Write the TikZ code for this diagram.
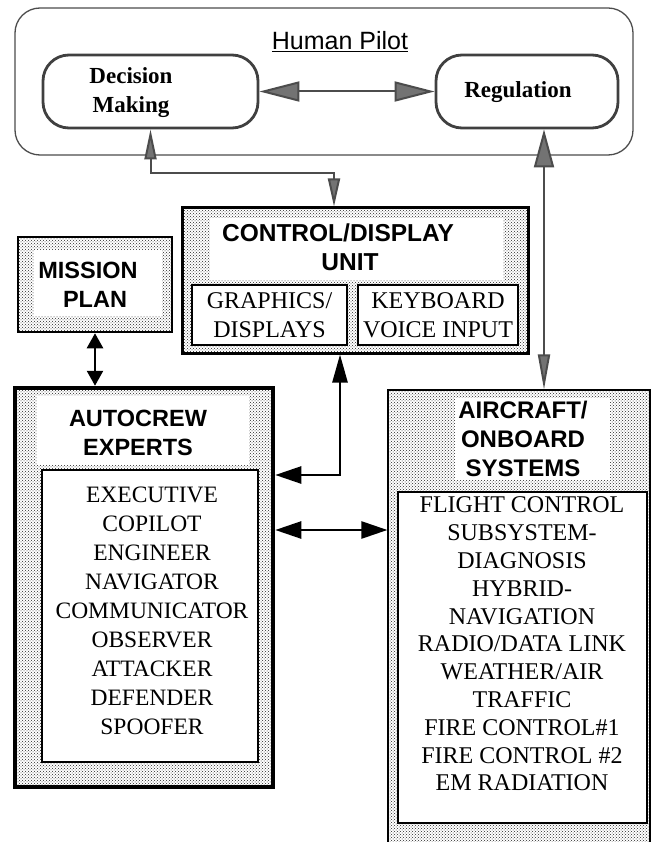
\documentclass[tikz,border=0pt]{standalone}
\usepackage{fontspec}
\setmainfont{Liberation Serif}
\setsansfont{Liberation Sans}
\usetikzlibrary{arrows.meta, patterns, math}

\tikzset{
  stipple/.style={pattern=crosshatch dots, pattern color=black!85},
  unitbox/.style={draw, line width=2.5pt, inner sep=0pt, stipple},
  whitebox/.style={fill=white, inner sep=0pt},
  listbox/.style={draw, line width=2.5pt, fill=white, inner sep=0pt},
  pilotframe/.style={draw=black!70, line width=1.3pt, rounded corners=25pt, inner sep=0pt},
  pilotbox/.style={draw=black!75, line width=2.8pt, rounded corners=26pt, inner sep=0pt},
  pilottext/.style={font=\bfseries\fontsize{23}{29}\selectfont, align=center},
  headtext/.style={font=\sffamily\bfseries\fontsize{23.5}{29}\selectfont, align=center},
  itemtext/.style={font=\fontsize{23.5}{29}\selectfont, align=center},
  grayline/.style={draw=black!70, line width=2pt},
  blackline/.style={line width=2.5pt},
  graytip/.tip={Triangle[length=40pt,width=20pt,fill=black!55]},
  blacktip/.tip={Triangle[length=26pt,width=17pt]},
  shorttip/.tip={Triangle[length=15pt,width=16pt]},
}

\begin{document}
\begin{tikzpicture}[x=1pt, y=-1pt]
\tikzmath{
\pw=651; \ph=842;
}
\useasboundingbox (0,0) rectangle (\pw,\ph);

% human pilot
\node[pilotframe, minimum width=618pt, minimum height=147pt] (pilot) at (324,81.5) {};
\node[font=\sffamily\fontsize{25}{28}\selectfont] (pilottitle) at (340,42) {\underline{Human Pilot}};
\node[pilotbox, minimum width=215pt, minimum height=73pt] (decision) at (150.5,91.5) {};
\node[pilottext] (decisiontext) at (131,92.5) {Decision\\Making};
\node[pilotbox, minimum width=182pt, minimum height=73pt] (regulation) at (527,91.5) {};
\node[pilottext] (regulationtext) at (518,92) {Regulation};

% control/display unit
\node[unitbox, line width=3pt, minimum width=346pt, minimum height=145pt] (cdu) at (355,280.5) {};
\node[whitebox, minimum width=293pt, minimum height=62pt] (cdutitle) at (356.5,249) {};
\node[headtext, font=\sffamily\bfseries\fontsize{24.5}{29}\selectfont] (cdutext) at (338,247.5) {CONTROL/DISPLAY\\\hspace*{24pt}UNIT};
\node[listbox, itemtext, font=\fontsize{24}{29}\selectfont, minimum width=155pt, minimum height=60pt] (graphics) at (269.5,315) {GRAPHICS/\\DISPLAYS};
\node[listbox, itemtext, font=\fontsize{24}{29}\selectfont, minimum width=160pt, minimum height=60pt] (keyboard) at (438,315) {KEYBOARD\\VOICE INPUT};

% mission plan
\node[unitbox, minimum width=154pt, minimum height=95pt] (mission) at (95,284.5) {};
\node[whitebox, minimum width=128pt, minimum height=66pt] (missiontitle) at (98,283) {};
\node[headtext] (missiontext) at (88,284.5) {MISSION\\\hspace*{14pt}PLAN};

% autocrew experts
\node[unitbox, line width=4.5pt, minimum width=258pt, minimum height=399pt] (autocrew) at (144,587.5) {};
\node[whitebox, minimum width=212pt, minimum height=69pt] (crewtitle) at (143,430.5) {};
\node[headtext] (crewtext) at (138,432.5) {AUTOCREW\\EXPERTS};
\node[listbox, minimum width=216pt, minimum height=292pt] (crew) at (150,616) {};
\node[itemtext] (crewlist) at (152,610.5) {EXECUTIVE\\COPILOT\\ENGINEER\\NAVIGATOR\\COMMUNICATOR\\OBSERVER\\ATTACKER\\DEFENDER\\SPOOFER};

% aircraft / onboard systems
\node[draw, line width=1.2pt, stipple, inner sep=0pt, minimum width=262pt, minimum height=480pt] (aircraft) at (519,630) {};
\node[whitebox, minimum width=155pt, minimum height=82pt] (aircrafttitle) at (532.5,439) {};
\node[headtext, font=\sffamily\bfseries\fontsize{24}{29}\selectfont] (aircrafttext) at (523,439) {AIRCRAFT/\\ONBOARD\\SYSTEMS};
\node[listbox, minimum width=249pt, minimum height=331pt] (systems) at (522.5,657.5) {};
\node[itemtext, font=\fontsize{24}{27.8}\selectfont] (systemslist) at (522,644) {FLIGHT CONTROL\\SUBSYSTEM-\\DIAGNOSIS\\HYBRID-\\NAVIGATION\\RADIO/DATA LINK\\WEATHER/AIR\\TRAFFIC\\FIRE CONTROL\#1\\FIRE CONTROL \#2\\EM RADIATION};

% gray links of the pilot
\draw[grayline, graytip-graytip] (decision) -- (regulation);
\coordinate (bend) at (334,173);
\draw[grayline, {Triangle[length=30pt,width=12pt,fill=black!55]}-{Triangle[length=28pt,width=12pt,fill=black!55]}]
  (decision.south) |- (bend) -- (bend |- cdu.north);
\coordinate (regfoot) at ([xshift=17pt]regulation.south);
\draw[grayline, {Triangle[length=38pt,width=20pt,fill=black!55]}-{Triangle[length=35pt,width=12pt,fill=black!55]}]
  (regfoot) -- (regfoot |- aircraft.north);

% black links
\draw[blackline, shorttip-shorttip] (mission.south) -- (mission.south |- autocrew.north);
\coordinate (cdufoot) at ([xshift=-15pt]cdu.south);
\coordinate (crewport) at ([yshift=112.5pt]autocrew.east);
\draw[blackline, {Triangle[length=28pt,width=15pt]}-blacktip] (cdufoot) |- (crewport);
\coordinate (linkport) at ([yshift=57.5pt]autocrew.east);
\draw[blackline, blacktip-blacktip] (linkport) -- (linkport -| aircraft.west);

\end{tikzpicture}
\end{document}
